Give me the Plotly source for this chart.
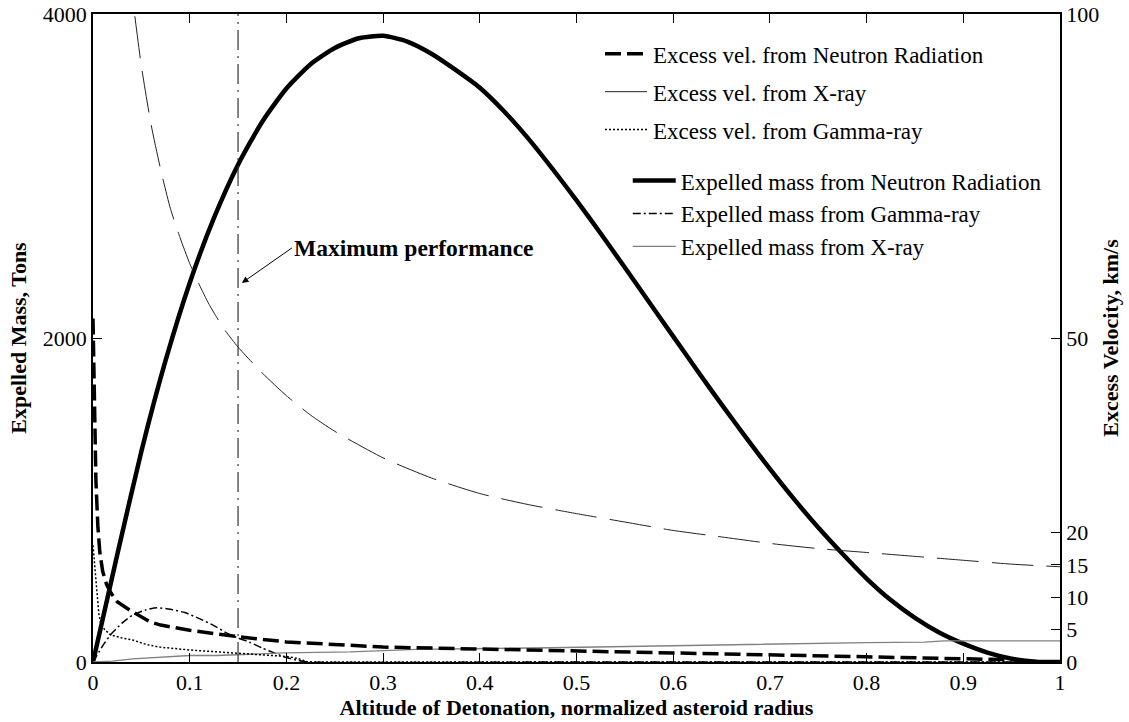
import plotly.graph_objects as go

# Altitude of detonation, normalized asteroid radius
x_ticks = [0, 0.1, 0.2, 0.3, 0.4, 0.5, 0.6, 0.7, 0.8, 0.9, 1.0]
x_tick_labels = ["0", "0.1", "0.2", "0.3", "0.4", "0.5", "0.6", "0.7", "0.8", "0.9", "1"]
mass_ticks = [0, 2000, 4000]
vel_ticks = [0, 5, 10, 15, 20, 50, 100]

# Excess velocity (km/s)
vel_neutron_x = [0, 0.0015, 0.003, 0.005, 0.007, 0.01, 0.014, 0.018, 0.025, 0.038, 0.05, 0.059,
                 0.07, 0.1, 0.15, 0.2, 0.3, 0.4, 0.5, 0.6, 0.7, 0.8, 0.85, 0.9, 0.93, 0.95,
                 0.965, 0.98, 1.0]
vel_neutron = [53, 40, 28, 21, 17, 14, 12, 10.8, 9.3, 8.0, 6.9, 6.2,
               5.7, 4.9, 3.9, 3.1, 2.3, 2.0, 1.7, 1.45, 1.2, 0.85, 0.7, 0.6, 0.5, 0.35,
               0.15, 0.0, 0.0]

vel_xray_x = [0.03, 0.035, 0.04, 0.043, 0.05, 0.06, 0.07, 0.08, 0.09, 0.1, 0.11, 0.12, 0.135,
              0.15, 0.175, 0.2, 0.225, 0.25, 0.3, 0.35, 0.4, 0.45, 0.5, 0.55, 0.6, 0.65, 0.7,
              0.75, 0.8, 0.85, 0.9, 0.95, 1.0]
vel_xray = [125, 113, 104, 100, 92, 83, 76, 70, 65.5, 61.5, 58.2, 55.2, 51.5,
            48.6, 44.6, 41.1, 38.1, 35.6, 31.5, 28.4, 26.0, 24.3, 22.9, 21.6, 20.3, 19.3, 18.3,
            17.5, 16.9, 16.3, 15.7, 15.1, 14.7]

vel_gamma_x = [0, 0.002, 0.004, 0.006, 0.008, 0.012, 0.018, 0.03, 0.041, 0.055, 0.069, 0.1,
               0.145, 0.18, 0.2, 0.212, 0.222, 0.5, 1.0]
vel_gamma = [18, 14, 10, 7.5, 6.0, 5.0, 4.2, 3.7, 3.4, 2.7, 2.3, 1.85,
             1.4, 1.1, 0.85, 0.55, 0.0, 0.0, 0.0]

# Expelled mass (tons)
mass_neutron_x = [0, 0.025, 0.05, 0.075, 0.1, 0.125, 0.15, 0.175, 0.2, 0.225, 0.25, 0.275,
                  0.3, 0.325, 0.35, 0.375, 0.4, 0.425, 0.45, 0.475, 0.5, 0.525, 0.55, 0.575,
                  0.6, 0.625, 0.65, 0.675, 0.7, 0.725, 0.75, 0.775, 0.8, 0.825, 0.85, 0.875,
                  0.9, 0.925, 0.95, 0.975, 1.0]
mass_neutron = [0, 660, 1300, 1860, 2340, 2740, 3070, 3335, 3540, 3690, 3790, 3850,
                3865, 3830, 3755, 3655, 3545, 3400, 3232, 3045, 2850, 2645, 2435, 2222,
                2010, 1798, 1590, 1388, 1192, 1005, 830, 668, 515, 382, 272, 182,
                113, 58, 20, 2, 0]

mass_gamma_x = [0, 0.01, 0.018, 0.03, 0.041, 0.055, 0.066, 0.08, 0.095, 0.11, 0.125, 0.138,
                0.15, 0.162, 0.175, 0.19, 0.2, 0.212, 0.222, 0.5, 1.0]
mass_gamma = [0, 100, 167, 240, 290, 322, 335, 325, 305, 268, 225, 180,
              148, 122, 86, 50, 28, 10, 0, 0, 0]

mass_xray_x = [0, 0.02, 0.041, 0.059, 0.1, 0.128, 0.197, 0.266, 0.335, 0.473, 0.6, 0.7,
               0.8, 0.86, 0.88, 1.0]
mass_xray = [0, 5, 19, 25, 40, 40, 56, 62, 78, 88, 102, 112, 120, 123, 130, 130]

max_perf_x = 0.15

SERIF = "Liberation Serif, Times New Roman, serif"

fig = go.Figure()

# Velocity curves (right axis)
fig.add_trace(go.Scatter(x=vel_neutron_x, y=vel_neutron, yaxis="y2", mode="lines",
                         name="Excess vel. from Neutron Radiation", legend="legend",
                         legendgroup="v1",
                         line=dict(color="black", width=3.5, dash="16px,6px")))
fig.add_trace(go.Scatter(x=vel_xray_x, y=vel_xray, yaxis="y2", mode="lines",
                         name="Excess vel. from X-ray", legend="legend", legendgroup="v2",
                         line=dict(color="#222222", width=1, dash="42px,13px", shape="spline",
                                   smoothing=0.6)))
fig.add_trace(go.Scatter(x=vel_gamma_x, y=vel_gamma, yaxis="y2", mode="lines",
                         name="Excess vel. from Gamma-ray", legend="legend", legendgroup="v3",
                         line=dict(color="black", width=1.5, dash="2px,2px")))

# Mass curves (left axis)
fig.add_trace(go.Scatter(x=mass_neutron_x, y=mass_neutron, mode="lines",
                         name="Expelled mass from Neutron Radiation", legend="legend2",
                         line=dict(color="black", width=4.5, shape="spline", smoothing=0.6)))
fig.add_trace(go.Scatter(x=mass_gamma_x, y=mass_gamma, mode="lines",
                         name="Expelled mass from Gamma-ray", legend="legend2",
                         line=dict(color="black", width=1.5, dash="8px,3px,2px,3px",
                                   shape="spline", smoothing=0.5)))
fig.add_trace(go.Scatter(x=mass_xray_x, y=mass_xray, mode="lines",
                         name="Expelled mass from X-ray", legend="legend2",
                         line=dict(color="#808080", width=1.3)))

# Marker line for the altitude of maximum performance
fig.add_shape(type="line", xref="x", yref="paper", x0=max_perf_x, x1=max_perf_x, y0=0, y1=1,
              line=dict(color="#333333", width=1.2, dash="20px,6px,2px,6px"))

fig.add_annotation(x=max_perf_x + 0.004, y=2340, xref="x", yref="y",
                   text="<b>Maximum performance</b>", showarrow=True,
                   ax=50, ay=-35, xanchor="left", yanchor="middle",
                   arrowhead=2, arrowsize=1.3, arrowwidth=1, arrowcolor="black",
                   font=dict(family=SERIF, size=23.5, color="black"))

axis_common = dict(showgrid=False, zeroline=False, showline=True, linecolor="black",
                   linewidth=1.5, ticks="inside", ticklen=9, tickwidth=1, tickcolor="black",
                   automargin=False,
                   tickfont=dict(family=SERIF, size=22, color="black"))

fig.update_layout(
    width=1129, height=722,
    margin=dict(l=93, r=69, t=14, b=60, autoexpand=False),
    paper_bgcolor="white", plot_bgcolor="white",
    font=dict(family=SERIF, size=22, color="black"),
    xaxis=dict(range=[0, 1], tickvals=x_ticks, ticktext=x_tick_labels, mirror="ticks",
               title=dict(text="<b>Altitude of Detonation, normalized asteroid radius</b>",
                          font=dict(family=SERIF, size=22), standoff=0),
               **axis_common),
    yaxis=dict(range=[0, 4000], tickvals=mass_ticks,
               title=dict(text="<b>Expelled Mass, Tons</b>",
                          font=dict(family=SERIF, size=22), standoff=10),
               **axis_common),
    yaxis2=dict(range=[0, 100], tickvals=vel_ticks, overlaying="y", side="right",
                title=dict(text="<b>Excess Velocity, km/s</b>",
                           font=dict(family=SERIF, size=22), standoff=4),
                **axis_common),
    legend=dict(x=0.5243, y=0.9717, xanchor="left", yanchor="top", bgcolor="rgba(0,0,0,0)",
                font=dict(family=SERIF, size=23, color="black"), traceorder="grouped",
                tracegroupgap=5, itemwidth=43),
    legend2=dict(x=0.553, y=0.776, xanchor="left", yanchor="top", bgcolor="rgba(0,0,0,0)",
                 font=dict(family=SERIF, size=23, color="black"), itemwidth=43),
)

fig.write_html("out.html")
